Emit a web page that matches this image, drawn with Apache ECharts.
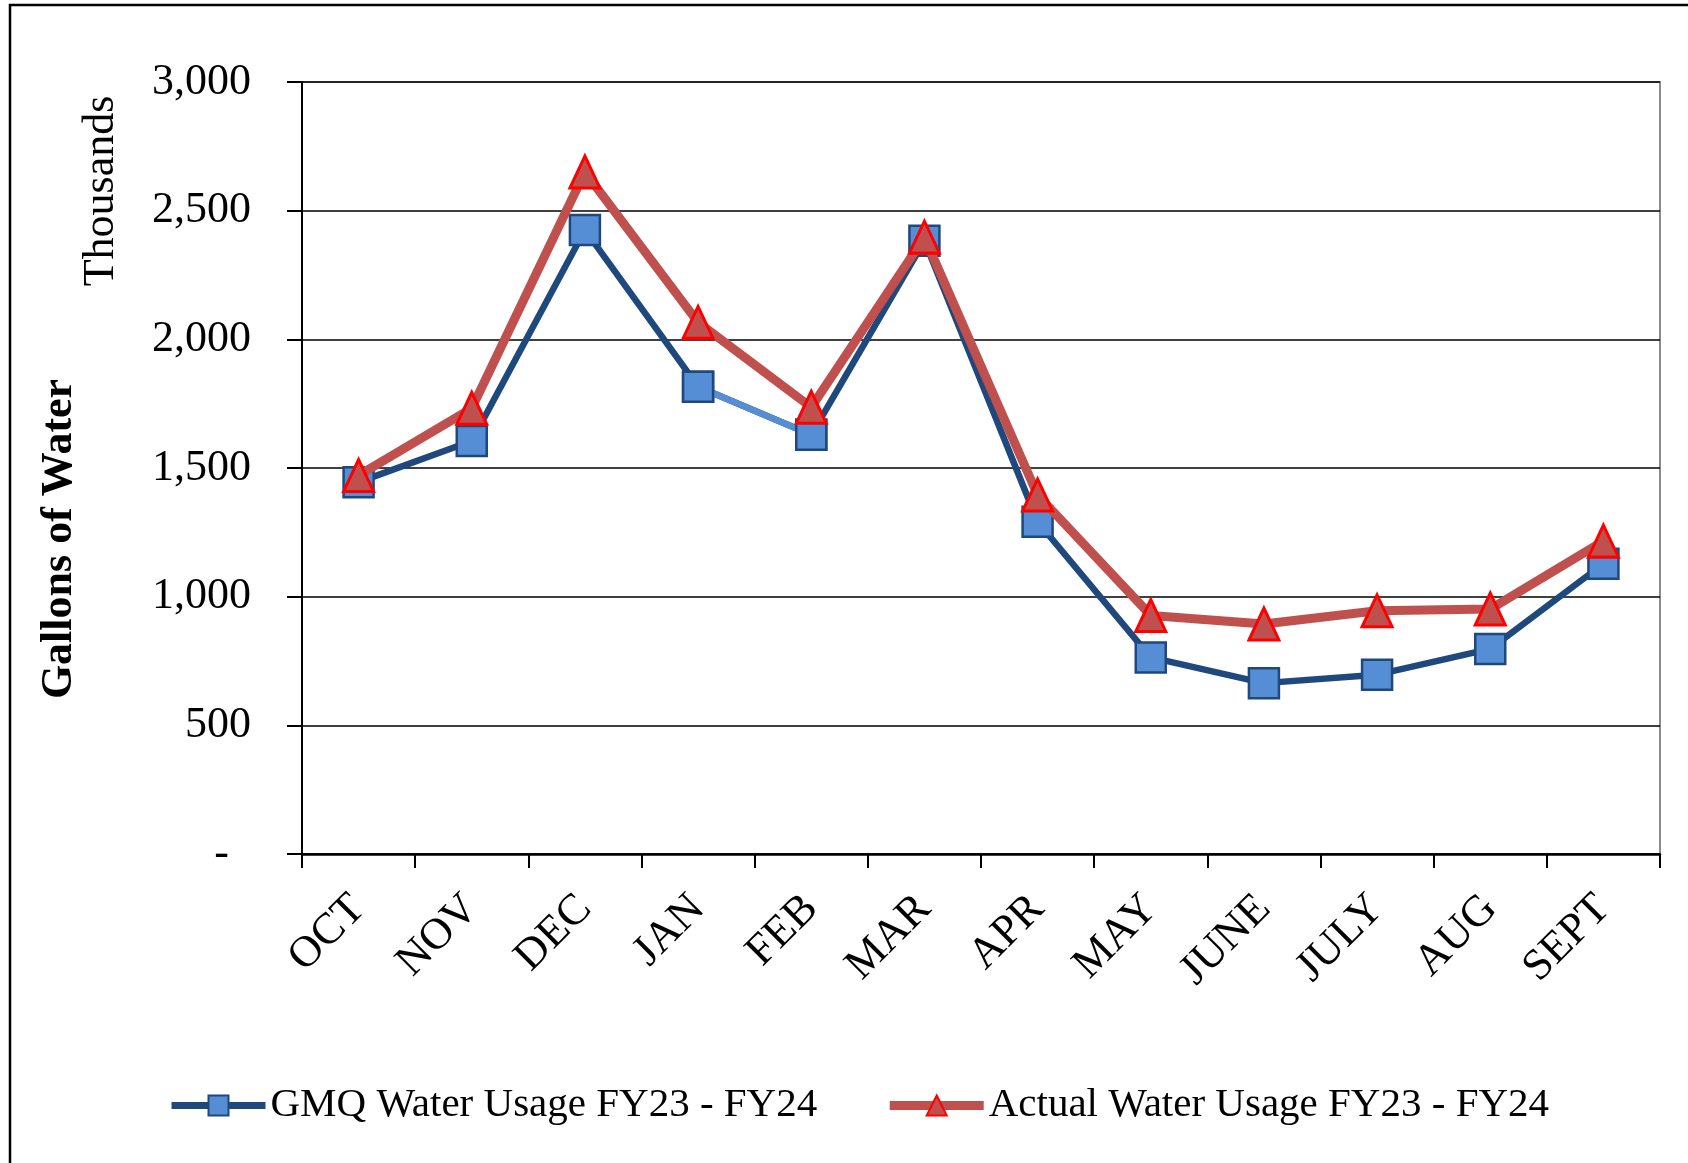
<!DOCTYPE html>
<html>
<head>
<meta charset="utf-8">
<script src="https://cdn.jsdelivr.net/npm/echarts@6/dist/echarts.min.js"></script>
<style>
html,body{margin:0;padding:0;background:#fff;}
#chart{width:1688px;height:1163px;}
</style>
</head>
<body>
<div id="chart"></div>
<script>
const categories = ['OCT','NOV','DEC','JAN','FEB','MAR','APR','MAY','JUNE','JULY','AUG','SEPT'];
const gmqUsage = [1445, 1605, 2425, 1816, 1629, 2383, 1291, 764, 664, 697, 797, 1128];
const actualUsage = [1471, 1732, 2650, 2066, 1736, 2397, 1395, 927, 894, 945, 952, 1216];
const yTicks = {min: 0, max: 3000, interval: 500};
const seriesNames = ['GMQ Water Usage FY23 - FY24', 'Actual Water Usage FY23 - FY24'];
const highlightIdx = [3, 4]; // JAN-FEB segment drawn in light blue

const FONT = "'Liberation Serif', 'Times New Roman', serif";
const chart = echarts.init(document.getElementById('chart'), null, {renderer: 'canvas'});

const gmqSquare = {
  symbol: 'rect',
  symbolSize: 30,
  itemStyle: {color: '#558ED5', borderColor: '#1F497D', borderWidth: 2.5}
};

chart.setOption({
  animation: false,
  backgroundColor: '#fff',
  grid: {left: 302, right: 28, top: 82, bottom: 309, show: true, borderColor: '#8c8c8c', borderWidth: 2},
  legend: {
    data: [
      {name: seriesNames[0], lineStyle: {width: 7, color: '#1F497D'}},
      {name: seriesNames[1], lineStyle: {width: 9, color: '#C0504D'}}
    ],
    left: 163, top: 1080,
    itemWidth: 94, itemHeight: 25, itemGap: 68,
    textStyle: {fontFamily: FONT, fontSize: 41, color: '#000'}
  },
  xAxis: {
    type: 'category',
    data: categories,
    boundaryGap: true,
    axisLine: {lineStyle: {color: '#000', width: 2.5}},
    axisTick: {show: true, length: 14, lineStyle: {color: '#000', width: 2}, interval: 0},
    axisLabel: {rotate: 45, interval: 0, margin: 48, fontFamily: FONT, fontSize: 44, color: '#000'},
    splitLine: {show: false}
  },
  yAxis: {
    type: 'value',
    min: yTicks.min, max: yTicks.max, interval: yTicks.interval,
    axisLine: {show: true, lineStyle: {color: '#000', width: 2}},
    axisTick: {show: true, length: 15, lineStyle: {color: '#000', width: 2}},
    axisLabel: {
      margin: 51, fontFamily: FONT, fontSize: 44, color: '#000',
      formatter: v => v === 0 ? '-  ' : v.toLocaleString('en-US')
    },
    splitLine: {show: true, lineStyle: {color: '#000', width: 1.5}}
  },
  graphic: [
    {type: 'rect', shape: {x: 10, y: 5, width: 1750, height: 1250}, style: {fill: 'none', stroke: '#000', lineWidth: 2.5}, silent: true},
    {type: 'text', x: 60, y: 539, rotation: Math.PI / 2,
     style: {text: 'Gallons of Water', fontFamily: FONT, fontSize: 44, fontWeight: 'bold', fill: '#000', textAlign: 'center', textVerticalAlign: 'middle'}},
    {type: 'text', x: 101, y: 191, rotation: Math.PI / 2,
     style: {text: 'Thousands', fontFamily: FONT, fontSize: 44, fill: '#000', textAlign: 'center', textVerticalAlign: 'middle'}}
  ],
  series: [
    Object.assign({
      name: seriesNames[0],
      type: 'line',
      data: gmqUsage,
      z: 2,
      lineStyle: {color: '#1F497D', width: 6.5},
      color: '#1F497D'
    }, gmqSquare),
    Object.assign({
      name: 'gmq-highlight',
      type: 'line',
      data: gmqUsage.map((v, i) => highlightIdx.includes(i) ? v : '-'),
      z: 3,
      lineStyle: {color: '#558ED5', width: 6.5}
    }, gmqSquare),
    {
      name: seriesNames[1],
      type: 'line',
      data: actualUsage,
      z: 4,
      symbol: 'triangle',
      symbolSize: [30, 32],
      lineStyle: {color: '#C0504D', width: 9},
      itemStyle: {color: '#C0504D', borderColor: '#FF0000', borderWidth: 3},
      color: '#C0504D'
    }
  ]
});
</script>
</body>
</html>
